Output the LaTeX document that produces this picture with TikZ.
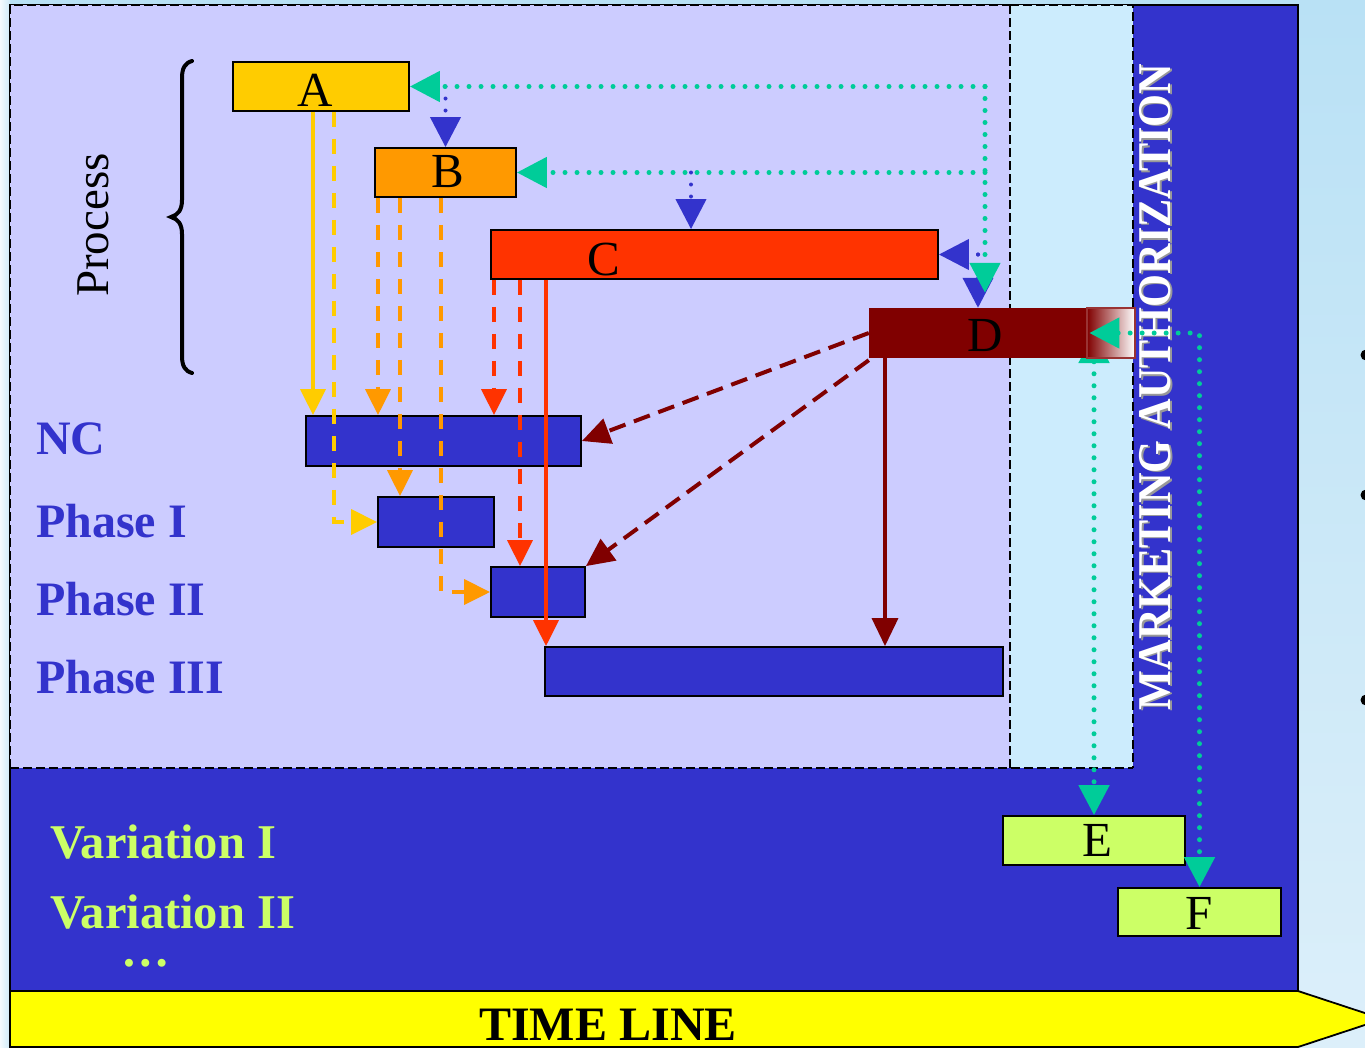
\documentclass[tikz,border=0pt]{standalone}
\usepackage{fontspec}
\setmainfont{Liberation Serif}
\usetikzlibrary{arrows.meta,calc}
\definecolor{lav}{HTML}{CCCCFF}
\definecolor{cyanp}{HTML}{CCECFD}
\definecolor{pblue}{HTML}{3333CC}
\definecolor{ayel}{HTML}{FFCC00}
\definecolor{bora}{HTML}{FF9900}
\definecolor{cred}{HTML}{FF3300}
\definecolor{dmar}{HTML}{800000}
\definecolor{dmarb}{HTML}{993333}
\definecolor{gteal}{HTML}{00CC99}
\definecolor{elime}{HTML}{CCFF66}
\definecolor{tyel}{HTML}{FFFF00}
\definecolor{bgtop}{HTML}{B9E1F5}
\definecolor{bgbot}{HTML}{DCEFFA}
\pgfdeclarelayer{panel}
\pgfdeclarelayer{behind}
\pgfsetlayers{panel,behind,main}
\begin{document}
\begin{tikzpicture}[x=1pt,y=-1pt,
  box/.style={draw=black, line width=1.8pt, inner sep=0pt, minimum height=49pt},
  lbl/.style={font=\fontsize{49}{58}\selectfont, inner sep=0pt, text=black},
  side/.style={font=\bfseries\fontsize{48}{56}\selectfont, inner sep=0pt, text=pblue},
  var/.style={font=\bfseries\fontsize{48.5}{56}\selectfont, inner sep=0pt, text=elime},
  tipS/.style={-{Triangle[length=26pt,width=25pt]}},
  tipL/.style={-{Triangle[length=30pt,width=30pt]}},
  tipM/.style={-{Triangle[length=28pt,width=26pt]}},
  sol/.style={line width=3.5pt},
  dsh/.style={line width=3.5pt, dash pattern=on 15pt off 12pt},
  mdsh/.style={draw=dmar, line width=4pt, dash pattern=on 17pt off 9pt},
  gdot/.style={draw=gteal, line width=5pt, line cap=round, dash pattern=on 0pt off 12pt},
  bdot/.style={draw=pblue, line width=4pt, line cap=round, dash pattern=on 0pt off 12pt},
  pdash/.style={draw=black, line width=1.6pt, dash pattern=on 9pt off 4pt}
]
\useasboundingbox (0,0) rectangle (1365,1047);
\clip (0,0) rectangle (1365,1047);

\begin{pgfonlayer}{panel}
\shade[top color=bgtop, bottom color=bgbot] (0,0) rectangle (1365,1047);
\shade[left color=white!85!bgtop, right color=bgtop!70!white] (0,0) rectangle (10,1047);
\filldraw[fill=pblue, draw=black, line width=1.8pt] (10,5) rectangle (1298,991);
\fill[lav] (10,5) rectangle (1010,768);
\fill[cyanp] (1010,5) rectangle (1133,768);
\draw[pdash] (10,768) -- (10,5) -- (1010,5);
\draw[pdash] (10,768) -- (1133,768);
\draw[pdash] (1010,5) -- (1010,768);
\draw[pdash] (1010,5) -- (1133,5) -- (1133,768);
\filldraw[fill=tyel, draw=black, line width=1.8pt] (10,991) -- (1298,991) -- (1383,1019) -- (1298,1047) -- (10,1047) -- cycle;
\fill[black] (1366,355) circle (5.5);
\fill[black] (1366,495) circle (5.5);
\fill[black] (1366,700) circle (5.5);
\end{pgfonlayer}

% brace and labels
\draw[line width=4pt, line cap=round] (192,61) .. controls (185,63) and (182,68) .. (182,78) -- (182,200) .. controls (182,210) and (178,215) .. (171,217) .. controls (178,219) and (182,224) .. (182,234) -- (182,356) .. controls (182,366) and (185,371) .. (192,373);
\node[lbl, rotate=90, anchor=base, font=\fontsize{47}{56}\selectfont] (proc) at (108,225) {Process};

\node[side, anchor=base west] (lnc) at (36,454) {NC};
\node[side, anchor=base west] (lp1) at (36,537) {Phase I};
\node[side, anchor=base west] (lp2) at (36,615) {Phase II};
\node[side, anchor=base west] (lp3) at (36,693) {Phase III};
\node[var, anchor=base west] (lv1) at (50,858) {Variation I};
\node[var, anchor=base west] (lv2) at (50,928) {Variation II};
\node[var, anchor=base, text height=8pt, text depth=0pt] (ldots) at (146,966) {…};
\node[inner sep=0pt, anchor=base, font=\bfseries\fontsize{48}{56}\selectfont] (tl) at (608,1040) {TIME LINE};

% marketing authorization
\node[rotate=90, anchor=base, inner sep=0pt, text=black!40, font=\bfseries\fontsize{47}{56}\selectfont] (mash) at (1172.5,388.5) {\scalebox{0.9}[1]{MARKETING AUTHORIZATION}};
\node[rotate=90, anchor=base, inner sep=0pt, text=white, font=\bfseries\fontsize{47}{56}\selectfont] (ma) at (1170,387) {\scalebox{0.9}[1]{MARKETING AUTHORIZATION}};

% boxes
\node[box, fill=ayel, minimum width=176pt] (A) at (321,86.5) {};
\node[box, fill=bora, minimum width=141pt] (B) at (445.5,172.5) {};
\node[box, fill=cred, minimum width=447pt] (C) at (714.5,254.5) {};
\node[inner sep=0pt, fill=dmar, minimum width=218pt, minimum height=50pt] (D) at (978,333) {};
\node[inner sep=0pt, minimum width=48pt, minimum height=50pt, left color=dmar, right color=white, draw=dmarb, line width=1.2pt] (Dg) at (1111,333) {};
\node[box, fill=pblue, minimum width=275pt, minimum height=50pt] (NC) at (443.5,441) {};
\node[box, fill=pblue, minimum width=116pt, minimum height=50pt] (P1) at (436,522) {};
\node[box, fill=pblue, minimum width=94pt, minimum height=50pt] (P2) at (538,592) {};
\node[box, fill=pblue, minimum width=458pt] (P3) at (774,671.5) {};
\node[box, fill=elime, minimum width=182pt] (E) at (1094,840.5) {};
\node[box, fill=elime, minimum width=163pt, minimum height=48pt] (F) at (1199.5,912) {};

\node[lbl, anchor=base] (At) at (315,106) {A};
\node[lbl, anchor=base] (Bt) at (448,187) {B};
\node[lbl, anchor=base] (Ct) at (604,275) {C};
\node[lbl, anchor=base] (Dt) at (985,351) {D};
\node[lbl, anchor=base] (Et) at (1097,856) {E};
\node[lbl, anchor=base] (Ft) at (1199,929) {F};

% A connectors
\draw[sol, draw=ayel, tipS] ([xshift=-8pt]A.south) coordinate (a1) -- (a1 |- NC.north);
\draw[dsh, draw=ayel, tipS] ([xshift=13pt]A.south) |- (P1.west);
% B connectors
\draw[dsh, draw=bora, tipS] ([xshift=-67.5pt]B.south) coordinate (b1) -- (b1 |- NC.north);
\draw[dsh, draw=bora, tipS] ([xshift=-45.5pt]B.south) coordinate (b2) -- (b2 |- P1.north);
\draw[dsh, draw=bora, tipS] ([xshift=-4.5pt]B.south) |- (P2.west);
% C connectors
\draw[dsh, draw=cred, tipS] ([xshift=-220.5pt]C.south) coordinate (c1) -- (c1 |- NC.north);
\draw[dsh, draw=cred, tipS] ([xshift=-194.5pt]C.south) coordinate (c2) -- (c2 |- P2.north);
\draw[sol, draw=cred, tipS] ([xshift=-168.5pt]C.south) coordinate (c3) -- (c3 |- P3.north);
% D connectors
\draw[mdsh, tipM] (D.west) -- (NC.east);
\draw[mdsh, tipM] ([yshift=-2pt]D.south west) -- (P2.north east);
\draw[sol, draw=dmar, tipM] ([xshift=-93pt]D.south) coordinate (d1) -- (d1 |- P3.north);

% feedback loops
\coordinate (g1) at (985,86.5);
\draw[bdot, tipL] (B.north |- A.east) -- (B.north);
\path ([xshift=-23.5pt]C.north) coordinate (cb);
\draw[bdot, tipL] (cb |- B.east) -- (cb);
\draw[bdot, tipL] (D.north |- C.east) -- (C.east);
\draw[bdot, tipL] (D.north |- C.east) -- (D.north);
\draw[gdot, tipL] (g1) -- (A.east);
\draw[gdot, tipL] (g1 |- B.east) -- (B.east);
\draw[gdot, tipL, shorten >=15pt] (g1) -- (g1 |- D.north);

% variations
\begin{pgfonlayer}{behind}
\draw[gdot, {Triangle[length=30pt,width=30pt]}-{Triangle[length=30pt,width=30pt]}] (E.north |- D.center) -- (E.north);
\end{pgfonlayer}
\draw[gdot, {Triangle[length=30pt,width=30pt]}-{Triangle[length=30pt,width=30pt]}] ([xshift=3pt]Dg.west) -- (Dg.west -| F.north) -- (F.north);
\end{tikzpicture}
\end{document}
